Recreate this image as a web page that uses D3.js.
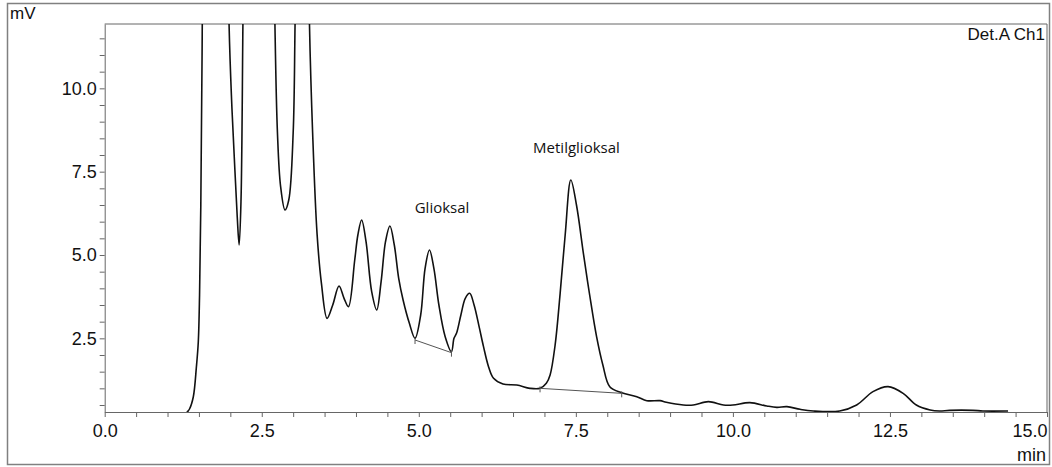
<!DOCTYPE html>
<html>
<head>
<meta charset="utf-8">
<script src="https://cdn.jsdelivr.net/npm/d3@7"></script>
<style>
  html, body { margin: 0; padding: 0; background: #fff; }
  svg { display: block; }
  .axis text { font-family: "Liberation Sans", Arial, sans-serif; font-size: 18px; fill: #111; }
  .axis path, .axis line { stroke: #666; }
  .peak-label { font-family: "Open Sans", sans-serif; font-size: 15px; fill: #111; }
</style>
</head>
<body>
<div id="chart"></div>
<script>
// retention time (min) and detector signal (mV)
const timeMin = [
  0.00, 1.20, 1.31, 1.35, 1.41, 1.46, 1.49, 1.51, 1.53, 1.55, 1.58, 1.75, 1.92,
  1.98, 2.02, 2.07, 2.11, 2.14, 2.17, 2.20, 2.24, 2.45, 2.66, 2.71, 2.75, 2.80, 2.87,
  2.93, 3.00, 3.03, 3.07, 3.15, 3.22, 3.26, 3.31, 3.38, 3.45, 3.54, 3.63, 3.73,
  3.81, 3.88, 3.98, 4.03, 4.09, 4.16, 4.25, 4.33, 4.40, 4.47, 4.54, 4.61, 4.68,
  4.75, 4.85, 4.94, 5.03, 5.10, 5.17, 5.24, 5.32, 5.42, 5.52, 5.56, 5.60, 5.67,
  5.74, 5.81, 5.88, 5.96, 6.03, 6.11, 6.19, 6.34, 6.56, 6.77, 6.93, 7.03, 7.09,
  7.17, 7.25, 7.33, 7.42, 7.51, 7.62, 7.72, 7.83, 7.93, 8.04, 8.23, 8.47, 8.63,
  8.84, 8.94, 9.21, 9.37, 9.61, 9.85, 10.00, 10.27, 10.54, 10.70, 10.86, 11.07,
  11.28, 11.70, 11.97, 12.23, 12.47, 12.71, 12.92, 13.14, 13.29, 13.45, 13.82,
  13.98, 14.38
];
const signalMv = [
  0.00, 0.00, 0.28, 0.38, 0.74, 1.65, 2.40, 3.80, 6.50, 11.0, 20.0, 60.0, 20.0,
  11.9, 9.65, 7.64, 6.14, 5.30, 6.65, 11.9, 20.0, 45.0, 20.0, 11.9, 8.66, 7.06, 6.35,
  6.65, 8.66, 11.9, 18.0, 25.0, 18.0, 11.9, 8.66, 5.65, 4.15, 3.10, 3.50, 4.07,
  3.70, 3.45, 4.85, 5.60, 6.05, 5.40, 3.90, 3.35, 4.20, 5.40, 5.87, 5.30, 4.30,
  3.65, 2.95, 2.50, 3.20, 4.60, 5.15, 4.60, 3.50, 2.55, 2.10, 2.50, 2.65, 3.20,
  3.70, 3.85, 3.50, 2.85, 2.25, 1.65, 1.30, 1.13, 1.10, 1.00, 1.00, 1.15, 1.40,
  2.30, 3.85, 5.60, 7.25, 6.50, 5.05, 3.80, 2.55, 1.70, 1.05, 0.87, 0.75, 0.63,
  0.63, 0.58, 0.50, 0.50, 0.60, 0.50, 0.50, 0.57, 0.47, 0.43, 0.45, 0.37,
  0.32, 0.32, 0.50, 0.90, 1.05, 0.85, 0.50, 0.35, 0.32, 0.34, 0.34,
  0.32, 0.32
];

// integration baselines drawn under the two named peaks
const glioksalBase = [[4.94, 2.45], [5.52, 2.07]];
const metilBase = [[6.93, 1.00], [8.23, 0.85]];

const peakNames = ["Glioksal", "Metilglioksal"];
const peakLabelTime = [5.37, 7.51];
const peakLabelMv = [6.26, 8.06];

const xTickLabels = [0, 2.5, 5, 7.5, 10, 12.5, 15];
const yTickLabels = [2.5, 5, 7.5, 10];
const xDomain = [0, 15];
const yDomain = [0.29, 11.93];

const W = 1052, H = 467;
const margin = {top: 24, right: 5, bottom: 55, left: 104.7};
const width = W - margin.left - margin.right;
const height = H - margin.top - margin.bottom;

const svg = d3.select("#chart").append("svg")
  .attr("width", W)
  .attr("height", H);

// outer frame
svg.append("rect")
  .attr("x", 7.5).attr("y", 3.5)
  .attr("width", 1042).attr("height", 461)
  .attr("fill", "none")
  .attr("stroke", "#808080")
  .attr("stroke-width", 1.5);

const g = svg.append("g")
  .attr("transform", "translate(" + margin.left + "," + margin.top + ")");

const x = d3.scaleLinear().domain(xDomain).range([0, width]);
const y = d3.scaleLinear().domain(yDomain).range([height, 0]);

g.append("clipPath").attr("id", "plot-clip")
  .append("rect").attr("width", width).attr("height", height);

// minor ticks every 0.5
const xMinor = d3.range(0, 15.01, 0.5);
const yMinor = d3.range(0.5, 11.9, 0.5);

g.append("g")
  .attr("class", "x axis")
  .attr("transform", "translate(0," + height + ")")
  .call(d3.axisBottom(x).tickValues(xMinor).tickSize(5).tickSizeOuter(0)
    .tickFormat(d => xTickLabels.includes(d) ? d3.format(".1f")(d) : ""))
  .call(a => a.selectAll("text").attr("dy", "0.95em"))
  .call(a => a.selectAll(".tick").filter(d => d === 15).select("text")
    .attr("text-anchor", "end").attr("dx", "0"));

g.append("g")
  .attr("class", "y axis")
  .call(d3.axisLeft(y).tickValues(yMinor).tickSize(5).tickSizeOuter(0)
    .tickFormat(d => yTickLabels.includes(d) ? d3.format(".1f")(d) : ""));

// top and right frame
g.append("line").attr("x1", 0).attr("x2", width).attr("y1", 0).attr("y2", 0)
  .attr("stroke", "#666");
g.append("line").attr("x1", width).attr("x2", width).attr("y1", 0).attr("y2", height)
  .attr("stroke", "#666");

const trace = timeMin.map((t, i) => ({t: t, v: signalMv[i]}));

const line = d3.line()
  .x(d => x(d.t))
  .y(d => y(d.v))
  .curve(d3.curveCatmullRom.alpha(0.5));

g.append("path")
  .datum(trace)
  .attr("clip-path", "url(#plot-clip)")
  .attr("fill", "none")
  .attr("stroke", "#111")
  .attr("stroke-width", 1.6)
  .attr("d", line);

[glioksalBase, metilBase].forEach(base => {
  g.append("line")
    .attr("x1", x(base[0][0])).attr("y1", y(base[0][1]))
    .attr("x2", x(base[1][0])).attr("y2", y(base[1][1]))
    .attr("stroke", "#555").attr("stroke-width", 1);
  base.forEach(p => {
    g.append("line")
      .attr("x1", x(p[0])).attr("x2", x(p[0]))
      .attr("y1", y(p[1]) - 2).attr("y2", y(p[1]) + 4)
      .attr("stroke", "#555").attr("stroke-width", 1);
  });
});

g.selectAll(".peak-label")
  .data(peakNames)
  .enter().append("text")
  .attr("class", "peak-label")
  .attr("x", (d, i) => x(peakLabelTime[i]))
  .attr("y", (d, i) => y(peakLabelMv[i]))
  .attr("text-anchor", "middle")
  .text(d => d);

svg.append("text")
  .attr("x", 10).attr("y", 19)
  .attr("font-family", "Liberation Sans, Arial, sans-serif")
  .attr("font-size", 17).attr("fill", "#111")
  .text("mV");

svg.append("text")
  .attr("x", margin.left + width - 2).attr("y", 40)
  .attr("text-anchor", "end")
  .attr("font-family", "Liberation Sans, Arial, sans-serif")
  .attr("font-size", 17).attr("fill", "#111")
  .text("Det.A Ch1");

svg.append("text")
  .attr("x", margin.left + width - 1).attr("y", 461)
  .attr("text-anchor", "end")
  .attr("font-family", "Liberation Sans, Arial, sans-serif")
  .attr("font-size", 18).attr("fill", "#111")
  .text("min");
</script>
</body>
</html>
